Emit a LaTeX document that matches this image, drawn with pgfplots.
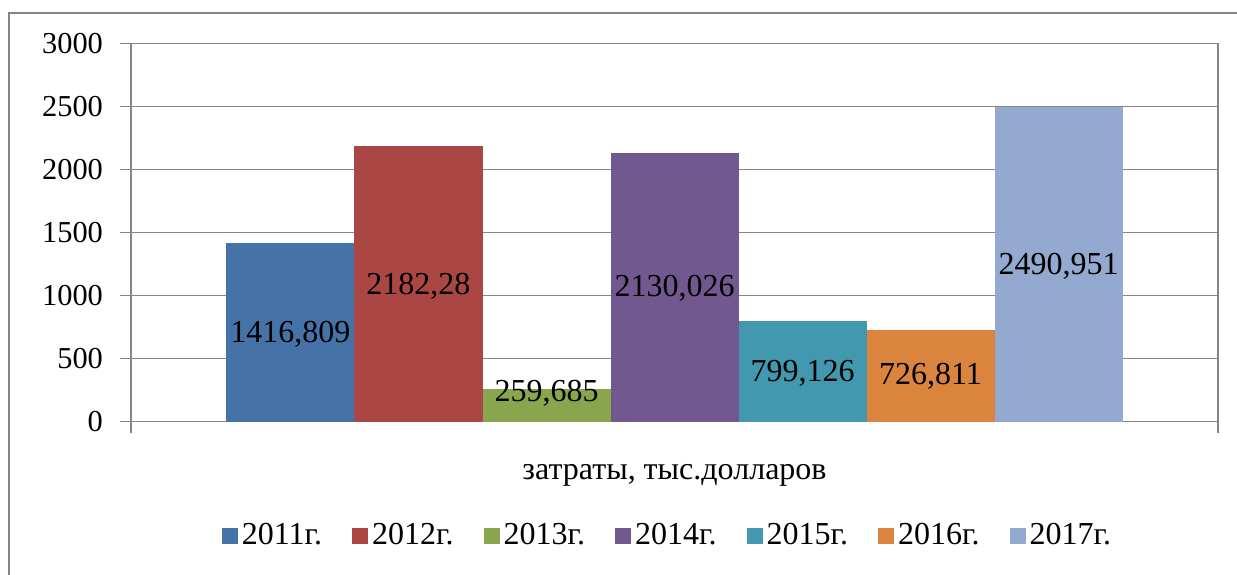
\documentclass[border=0pt]{standalone}
\usepackage{pgfplots}
\pgfplotsset{compat=1.18}
\usepackage{fontspec}
\setmainfont{Liberation Serif}
\definecolor{c1}{HTML}{4673A7}
\definecolor{c2}{HTML}{AA4643}
\definecolor{c3}{HTML}{89A54E}
\definecolor{c4}{HTML}{71588F}
\definecolor{c5}{HTML}{4198AF}
\definecolor{c6}{HTML}{DB843D}
\definecolor{c7}{HTML}{93A9CF}
\definecolor{gl}{HTML}{868686}
\begin{document}
\begin{tikzpicture}
\useasboundingbox (0,0) rectangle (618.5pt,-287pt);
\draw[gl, line width=1pt] (4.7pt,-300pt) -- (4.7pt,-6.6pt) -- (640pt,-6.6pt);
\begin{axis}[
  at={(65.5pt,-210.75pt)}, anchor=south west,
  scale only axis, width=543.5pt, height=189.1pt,
  xmin=-1.246, xmax=7.246, ymin=0, ymax=3000,
  ytick={0,500,...,3000},
  xtick={-1.246,7.246}, xticklabels={},
  ymajorgrids, grid style={gl, line width=0.6pt},
  axis line style={gl, line width=0.8pt},
  every tick/.style={gl, line width=0.6pt},
  tick align=outside, major tick length=5.5pt,
  ytick pos=left, xtick pos=bottom,
  /pgf/number format/assume math mode=true,
  /pgf/number format/1000 sep={},
  yticklabel style={font=\fontsize{15.2}{18}\selectfont, xshift=-5pt},
  xlabel={затраты, тыс.долларов},
  xlabel style={at={(axis description cs:0.5,0)}, anchor=base, yshift=-28.9pt, font=\fontsize{16}{19}\selectfont},
  legend columns=-1,
  legend style={at={(axis description cs:0.5,0)}, anchor=center, yshift=-57pt, xshift=-3pt, draw=none, fill=none,
    font=\fontsize{16}{19}\selectfont, /tikz/every even column/.append style={column sep=13pt}},
  legend image code/.code={\fill (0pt,-4pt) rectangle (8pt,4pt);},
  clip=false,
]
\addplot[ybar, fill=c1, draw=none, bar width=1, bar shift=0pt] coordinates {(0,1416.809)};
\addlegendentry{2011г.}
\addplot[ybar, fill=c2, draw=none, bar width=1, bar shift=0pt] coordinates {(1,2182.28)};
\addlegendentry{2012г.}
\addplot[ybar, fill=c3, draw=none, bar width=1, bar shift=0pt] coordinates {(2,259.685)};
\addlegendentry{2013г.}
\addplot[ybar, fill=c4, draw=none, bar width=1, bar shift=0pt] coordinates {(3,2130.026)};
\addlegendentry{2014г.}
\addplot[ybar, fill=c5, draw=none, bar width=1, bar shift=0pt] coordinates {(4,799.126)};
\addlegendentry{2015г.}
\addplot[ybar, fill=c6, draw=none, bar width=1, bar shift=0pt] coordinates {(5,726.811)};
\addlegendentry{2016г.}
\addplot[ybar, fill=c7, draw=none, bar width=1, bar shift=0pt] coordinates {(6,2490.951)};
\addlegendentry{2017г.}
\addplot[only marks, mark=none, forget plot, nodes near coords, point meta=explicit symbolic,
  every node near coord/.style={anchor=center, inner sep=0pt, text=black, font=\fontsize{16}{19}\selectfont}]
  coordinates {
  (0,695) [{1416,809}]
  (1,1072) [{2182,28}]
  (2,222) [{259,685}]
  (3,1057) [{2130,026}]
  (4,382) [{799,126}]
  (5,357) [{726,811}]
  (6,1230) [{2490,951}]
  };
\end{axis}
\end{tikzpicture}
\end{document}
